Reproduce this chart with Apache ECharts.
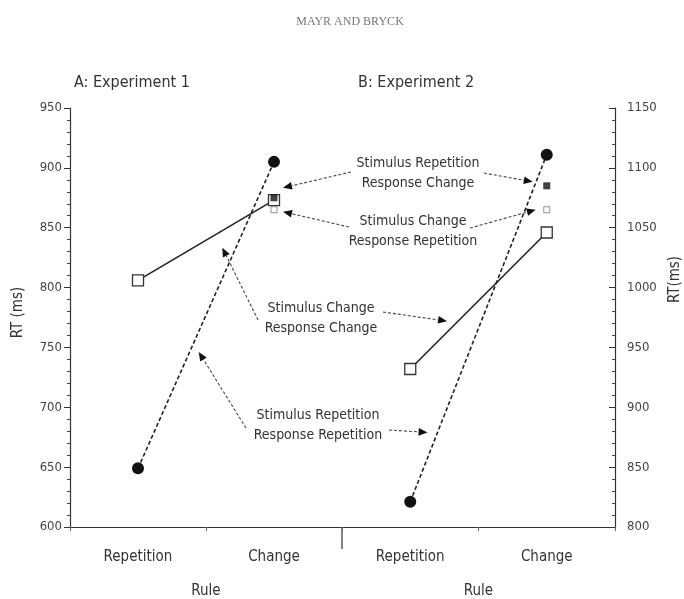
<!DOCTYPE html>
<html><head><meta charset="utf-8">
<script src="https://cdn.jsdelivr.net/npm/echarts@6/dist/echarts.min.js"></script>
<style>html,body{margin:0;padding:0;background:#fff}#c{width:684px;height:599px}</style>
</head><body><div id="c"></div>
<script>
// ---- data ----
const categories = ['Repetition', 'Change'];
const exp1RepRep = [649, 905];   // Stimulus Repetition / Response Repetition
const exp1ChCh   = [806, 873];   // Stimulus Change / Response Change
const exp1RepCh  = [null, 875];  // Stimulus Repetition / Response Change
const exp1ChRep  = [null, 865];  // Stimulus Change / Response Repetition
const exp2RepRep = [821, 1111];
const exp2ChCh   = [932, 1046];
const exp2RepCh  = [null, 1085];
const exp2ChRep  = [null, 1065];
const leftAxisRange  = [600, 950, 50];
const rightAxisRange = [800, 1150, 50];
const panelTitles = ['A: Experiment 1', 'B: Experiment 2'];
const yNameLeft = 'RT (ms)';
const yNameRight = 'RT(ms)';
const xName = 'Rule';
const headerText = 'MAYR AND BRYCK';
const annTexts = [
  'Stimulus Repetition\nResponse Change',
  'Stimulus Change\nResponse Repetition',
  'Stimulus Change\nResponse Change',
  'Stimulus Repetition\nResponse Repetition'
];

// ---- chart ----
const FONT = '"Liberation Sans Narrow","DejaVu Sans Condensed","Liberation Sans",sans-serif';
const INK = '#222';
const chart = echarts.init(document.getElementById('c'), null, {renderer: 'canvas'});

function yAx(grid, range, pos, name, gap, inside, pad) {
  return {
    type: 'value', gridIndex: grid, position: pos,
    min: range[0], max: range[1], interval: range[2],
    name: name, nameLocation: 'middle', nameRotate: 90, nameGap: gap,
    nameTextStyle: {fontFamily: FONT, fontSize: 15, color: '#333', padding: pad},
    axisLine: {show: true, lineStyle: {color: '#333', width: 1.2}},
    axisTick: {show: true, inside: inside, length: 6, lineStyle: {color: '#333'}},
    minorTick: {show: true, splitNumber: 5, length: 3, lineStyle: {color: '#444'}},
    splitLine: {show: false},
    axisLabel: {fontFamily: FONT, fontSize: 13, color: '#444', margin: inside ? 12 : 8,
      formatter: v => String(v)}
  };
}
function xAx(grid) {
  return {
    type: 'category', gridIndex: grid, data: categories, boundaryGap: true,
    name: xName, nameLocation: 'middle', nameGap: 57,
    nameTextStyle: {fontFamily: FONT, fontSize: 15, color: '#333'},
    axisLine: {show: true, lineStyle: {color: '#333', width: 1.2}},
    axisTick: {show: true, length: 4, lineStyle: {color: '#666'}},
    axisLabel: {fontFamily: FONT, fontSize: 15, color: '#333', margin: 23}
  };
}
function circleLine(grid, d) {
  return {type: 'line', xAxisIndex: grid, yAxisIndex: grid, data: d, symbol: 'circle', symbolSize: 12,
    itemStyle: {color: '#111'}, lineStyle: {color: INK, width: 1.6, type: [4, 2.5]}, z: 3, animation: false};
}
function squareLine(grid, d) {
  return {type: 'line', xAxisIndex: grid, yAxisIndex: grid, data: d, symbol: 'rect', symbolSize: 11,
    itemStyle: {color: '#fff', borderColor: '#333', borderWidth: 1.3}, lineStyle: {color: INK, width: 1.6}, z: 2, animation: false};
}
function filledSq(grid, d) {
  return {type: 'scatter', xAxisIndex: grid, yAxisIndex: grid, data: d, symbol: 'rect', symbolSize: 7,
    itemStyle: {color: '#111'}, z: 4, animation: false};
}
function openSq(grid, d) {
  return {type: 'scatter', xAxisIndex: grid, yAxisIndex: grid, data: d, symbol: 'rect', symbolSize: 6,
    itemStyle: {color: '#fff', borderColor: '#777', borderWidth: 1}, z: 4, animation: false};
}

chart.setOption({
  backgroundColor: '#fff',
  animation: false,
  grid: [
    {left: 70, top: 108, width: 272, height: 419, outerBoundsMode: 'none', containLabel: false},
    {left: 342, top: 108, width: 273, height: 419, outerBoundsMode: 'none', containLabel: false}
  ],
  xAxis: [xAx(0), xAx(1)],
  yAxis: [
    yAx(0, leftAxisRange, 'left', yNameLeft, 44, false, [0, 0, 0, 10]),
    yAx(1, rightAxisRange, 'right', yNameRight, 53, true, [0, 0, 0, 76])
  ],
  series: [
    squareLine(0, exp1ChCh), circleLine(0, exp1RepRep), filledSq(0, exp1RepCh), openSq(0, exp1ChRep),
    squareLine(1, exp2ChCh), circleLine(1, exp2RepRep), filledSq(1, exp2RepCh), openSq(1, exp2ChRep)
  ]
});

// ---- annotations anchored to data ----
function px(g, ci, v) { return chart.convertToPixel({xAxisIndex: g, yAxisIndex: g}, [ci, v]); }
function seg(g, arr, t) {
  const a = px(g, 0, arr[0]), b = px(g, 1, arr[1]);
  return [a[0] + (b[0] - a[0]) * t, a[1] + (b[1] - a[1]) * t];
}
function add(p, o) { return [p[0] + o[0], p[1] + o[1]]; }

const anns = [
  {text: annTexts[0], x: 418, y: 173, arrows: [
    {from: [351, 172], to: add(px(0, 1, exp1RepCh[1]), [9, -10])},
    {from: [484, 173], to: add(px(1, 1, exp2RepCh[1]), [-14, -4])}]},
  {text: annTexts[1], x: 413, y: 231, arrows: [
    {from: [349, 227], to: add(px(0, 1, exp1ChRep[1]), [9, 2])},
    {from: [470, 228], to: add(px(1, 1, exp2ChRep[1]), [-11, 0])}]},
  {text: annTexts[2], x: 321, y: 318, arrows: [
    {from: [258, 320], to: add(seg(0, exp1ChCh, 0.62), [0, 17])},
    {from: [383, 312], to: add(seg(1, exp2ChCh, 0.27), [0, -11])}]},
  {text: annTexts[3], x: 318, y: 425, arrows: [
    {from: [246, 428], to: add(seg(0, exp1RepRep, 0.38), [9, 0])},
    {from: [389, 430], to: add(seg(1, exp2RepRep, 0.2), [-10, 0])}]}
];

const g = [];
g.push({type: 'text', x: 350, y: 22, style: {text: headerText, font: '12px "Liberation Serif",serif', fill: '#777',
  textAlign: 'center', textVerticalAlign: 'middle'}});
g.push({type: 'text', x: 74, y: 83, style: {text: panelTitles[0], font: '16px ' + FONT, fill: '#333', textVerticalAlign: 'middle'}});
g.push({type: 'text', x: 358, y: 83, style: {text: panelTitles[1], font: '16px ' + FONT, fill: '#333', textVerticalAlign: 'middle'}});

// divider tick between panels
const dv = px(0, 1, leftAxisRange[0]);
const gx = 342;
g.push({type: 'line', shape: {x1: gx, y1: dv[1], x2: gx, y2: dv[1] + 22}, style: {stroke: '#333', lineWidth: 1.2}});

anns.forEach(a => {
  g.push({type: 'text', x: a.x, y: a.y, z: 10, style: {text: a.text, font: '14px ' + FONT, fill: '#333',
    textAlign: 'center', textVerticalAlign: 'middle', lineHeight: 20}});
  a.arrows.forEach(ar => {
    const [x1, y1] = ar.from, [x2, y2] = ar.to;
    const dx = x2 - x1, dy = y2 - y1, L = Math.hypot(dx, dy), ux = dx / L, uy = dy / L;
    const hl = 9, hw = 3.8;
    const bx = x2 - ux * hl, by = y2 - uy * hl;
    g.push({type: 'line', z: 9, shape: {x1: x1, y1: y1, x2: bx, y2: by}, style: {stroke: '#444', lineWidth: 1.1, lineDash: [3, 2]}});
    g.push({type: 'polygon', z: 9, shape: {points: [[x2, y2], [bx - uy * hw, by + ux * hw], [bx + uy * hw, by - ux * hw]]}, style: {fill: '#111'}});
  });
});
chart.setOption({graphic: g});
</script></body></html>
